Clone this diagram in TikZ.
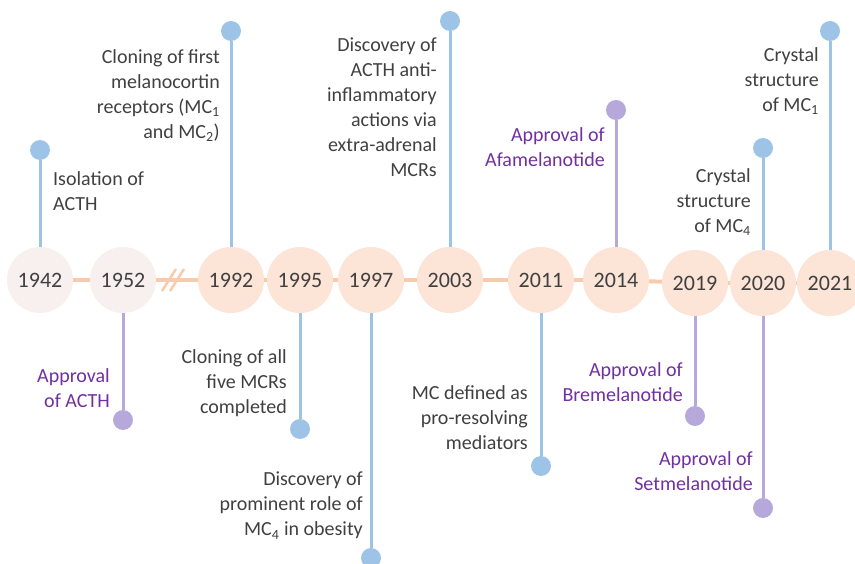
\documentclass[tikz,border=0pt]{standalone}
\usepackage{fontspec}
\setmainfont{Carlito}
\usepackage{tikz}
\usetikzlibrary{positioning}
\definecolor{txtgray}{RGB}{64,64,64}
\definecolor{peach}{RGB}{252,228,214}
\definecolor{pale}{RGB}{248,240,238}
\definecolor{tlorange}{RGB}{248,203,173}
\definecolor{stemblue}{RGB}{157,195,230}
\definecolor{stempurple}{RGB}{182,168,218}
\definecolor{txtpurple}{RGB}{112,48,160}

\begin{document}
\begin{tikzpicture}[
  x=1pt, y=-1pt,
  year/.style={circle, fill=peach, minimum size=66pt, inner sep=0pt, text=txtgray,
               font=\fontsize{22}{26}\selectfont},
  oldyear/.style={year, fill=pale},
  bdot/.style={circle, fill=stemblue, minimum size=20pt, inner sep=0pt},
  pdot/.style={circle, fill=stempurple, minimum size=20pt, inner sep=0pt},
  bstem/.style={line width=3pt, stemblue},
  pstem/.style={line width=3pt, stempurple},
  tl/.style={line width=4pt, tlorange},
  lbl/.style={inner sep=0pt, align=right, anchor=north east, text=txtgray,
              font=\fontsize{20}{25}\selectfont},
  plbl/.style={lbl, text=txtpurple}
]
\useasboundingbox (0,0) rectangle (855,564);
% years on the time line
\node[oldyear] (y1942) at (40,280)  {1942};
\node[oldyear] (y1952) at (123,280) {1952};
\node[year] (y1992) at (231,280) {1992};
\node[year] (y1995) at (300,280) {1995};
\node[year] (y1997) at (371,280) {1997};
\node[year] (y2003) at (450,280) {2003};
\node[year] (y2011) at (541,280) {2011};
\node[year] (y2014) at (616,280) {2014};
\node[year] (y2019) at (695,283) {2019};
\node[year] (y2020) at (763,283) {2020};
\node[year] (y2021) at (830,283) {2021};
\begin{scope}[on background layer/.try]
\foreach \a/\b in {1942/1952,1952/1992,1992/1995,1995/1997,1997/2003,2003/2011,2011/2014,2014/2019,2019/2020,2020/2021}
  \draw[tl] (y\a) -- (y\b);
\end{scope}
\coordinate (brk) at (170,280);
\draw[tl, line width=2.5pt] ([shift={(-8,11)}]brk) -- ++(14,-22);
\draw[tl, line width=2.5pt] ([shift={(0,11)}]brk) -- ++(14,-22);

% events above
\node[bdot] (d1942) at (40,150) {};
\node[bdot] (d1992) at (231,31) {};
\node[bdot] (d2003) at (450,21) {};
\node[pdot] (d2014) at (616,110) {};
\node[bdot] (d2020u) at (763,148) {};
\node[bdot] (d2021) at (830,31) {};
\draw[bstem] (y1942) -- (d1942);
\draw[bstem] (y1992) -- (d1992);
\draw[bstem] (y2003) -- (d2003);
\draw[pstem] (y2014) -- (d2014);
\draw[bstem] (y2020) -- (d2020u);
\draw[bstem] (y2021) -- (d2021);
\node[lbl, anchor=north west, align=left] (l1942) at (53,171) {Isolation of\\ACTH};
\node[lbl] (l1992) at (220,49) {Cloning of first\\melanocortin\\receptors (MC\textsubscript{1}\\and MC\textsubscript{2})};
\node[lbl] (l2003) at (437,38) {Discovery of\\ACTH anti-\\inflammatory\\actions via\\extra-adrenal\\MCRs};
\node[plbl] (l2014) at (605,127) {Approval of\\Afamelanotide};
\node[lbl] (l2020u) at (751,168) {Crystal\\structure\\of MC\textsubscript{4}};
\node[lbl] (l2021) at (819,47) {Crystal\\structure\\of MC\textsubscript{1}};

% events below
\node[pdot] (d1952) at (123,420) {};
\node[bdot] (d1995) at (300,429) {};
\node[bdot] (d1997) at (371,558) {};
\node[bdot] (d2011) at (541,466) {};
\node[pdot] (d2019) at (695,416) {};
\node[pdot] (d2020d) at (763,508) {};
\draw[pstem] (y1952) -- (d1952);
\draw[bstem] (y1995) -- (d1995);
\draw[bstem] (y1997) -- (d1997);
\draw[bstem] (y2011) -- (d2011);
\draw[pstem] (y2019) -- (d2019);
\draw[pstem] (y2020) -- (d2020d);
\node[plbl] (l1952) at (110,368) {Approval\\of ACTH};
\node[lbl] (l1995) at (287,349) {Cloning of all\\five MCRs\\completed};
\node[lbl] (l1997) at (363,472) {Discovery of\\prominent role of\\MC\textsubscript{4} in obesity};
\node[lbl] (l2011) at (528,385) {MC defined as\\pro-resolving\\mediators};
\node[plbl] (l2019) at (683,362) {Approval of\\Bremelanotide};
\node[plbl] (l2020d) at (753,451) {Approval of\\Setmelanotide};
\end{tikzpicture}
\end{document}
